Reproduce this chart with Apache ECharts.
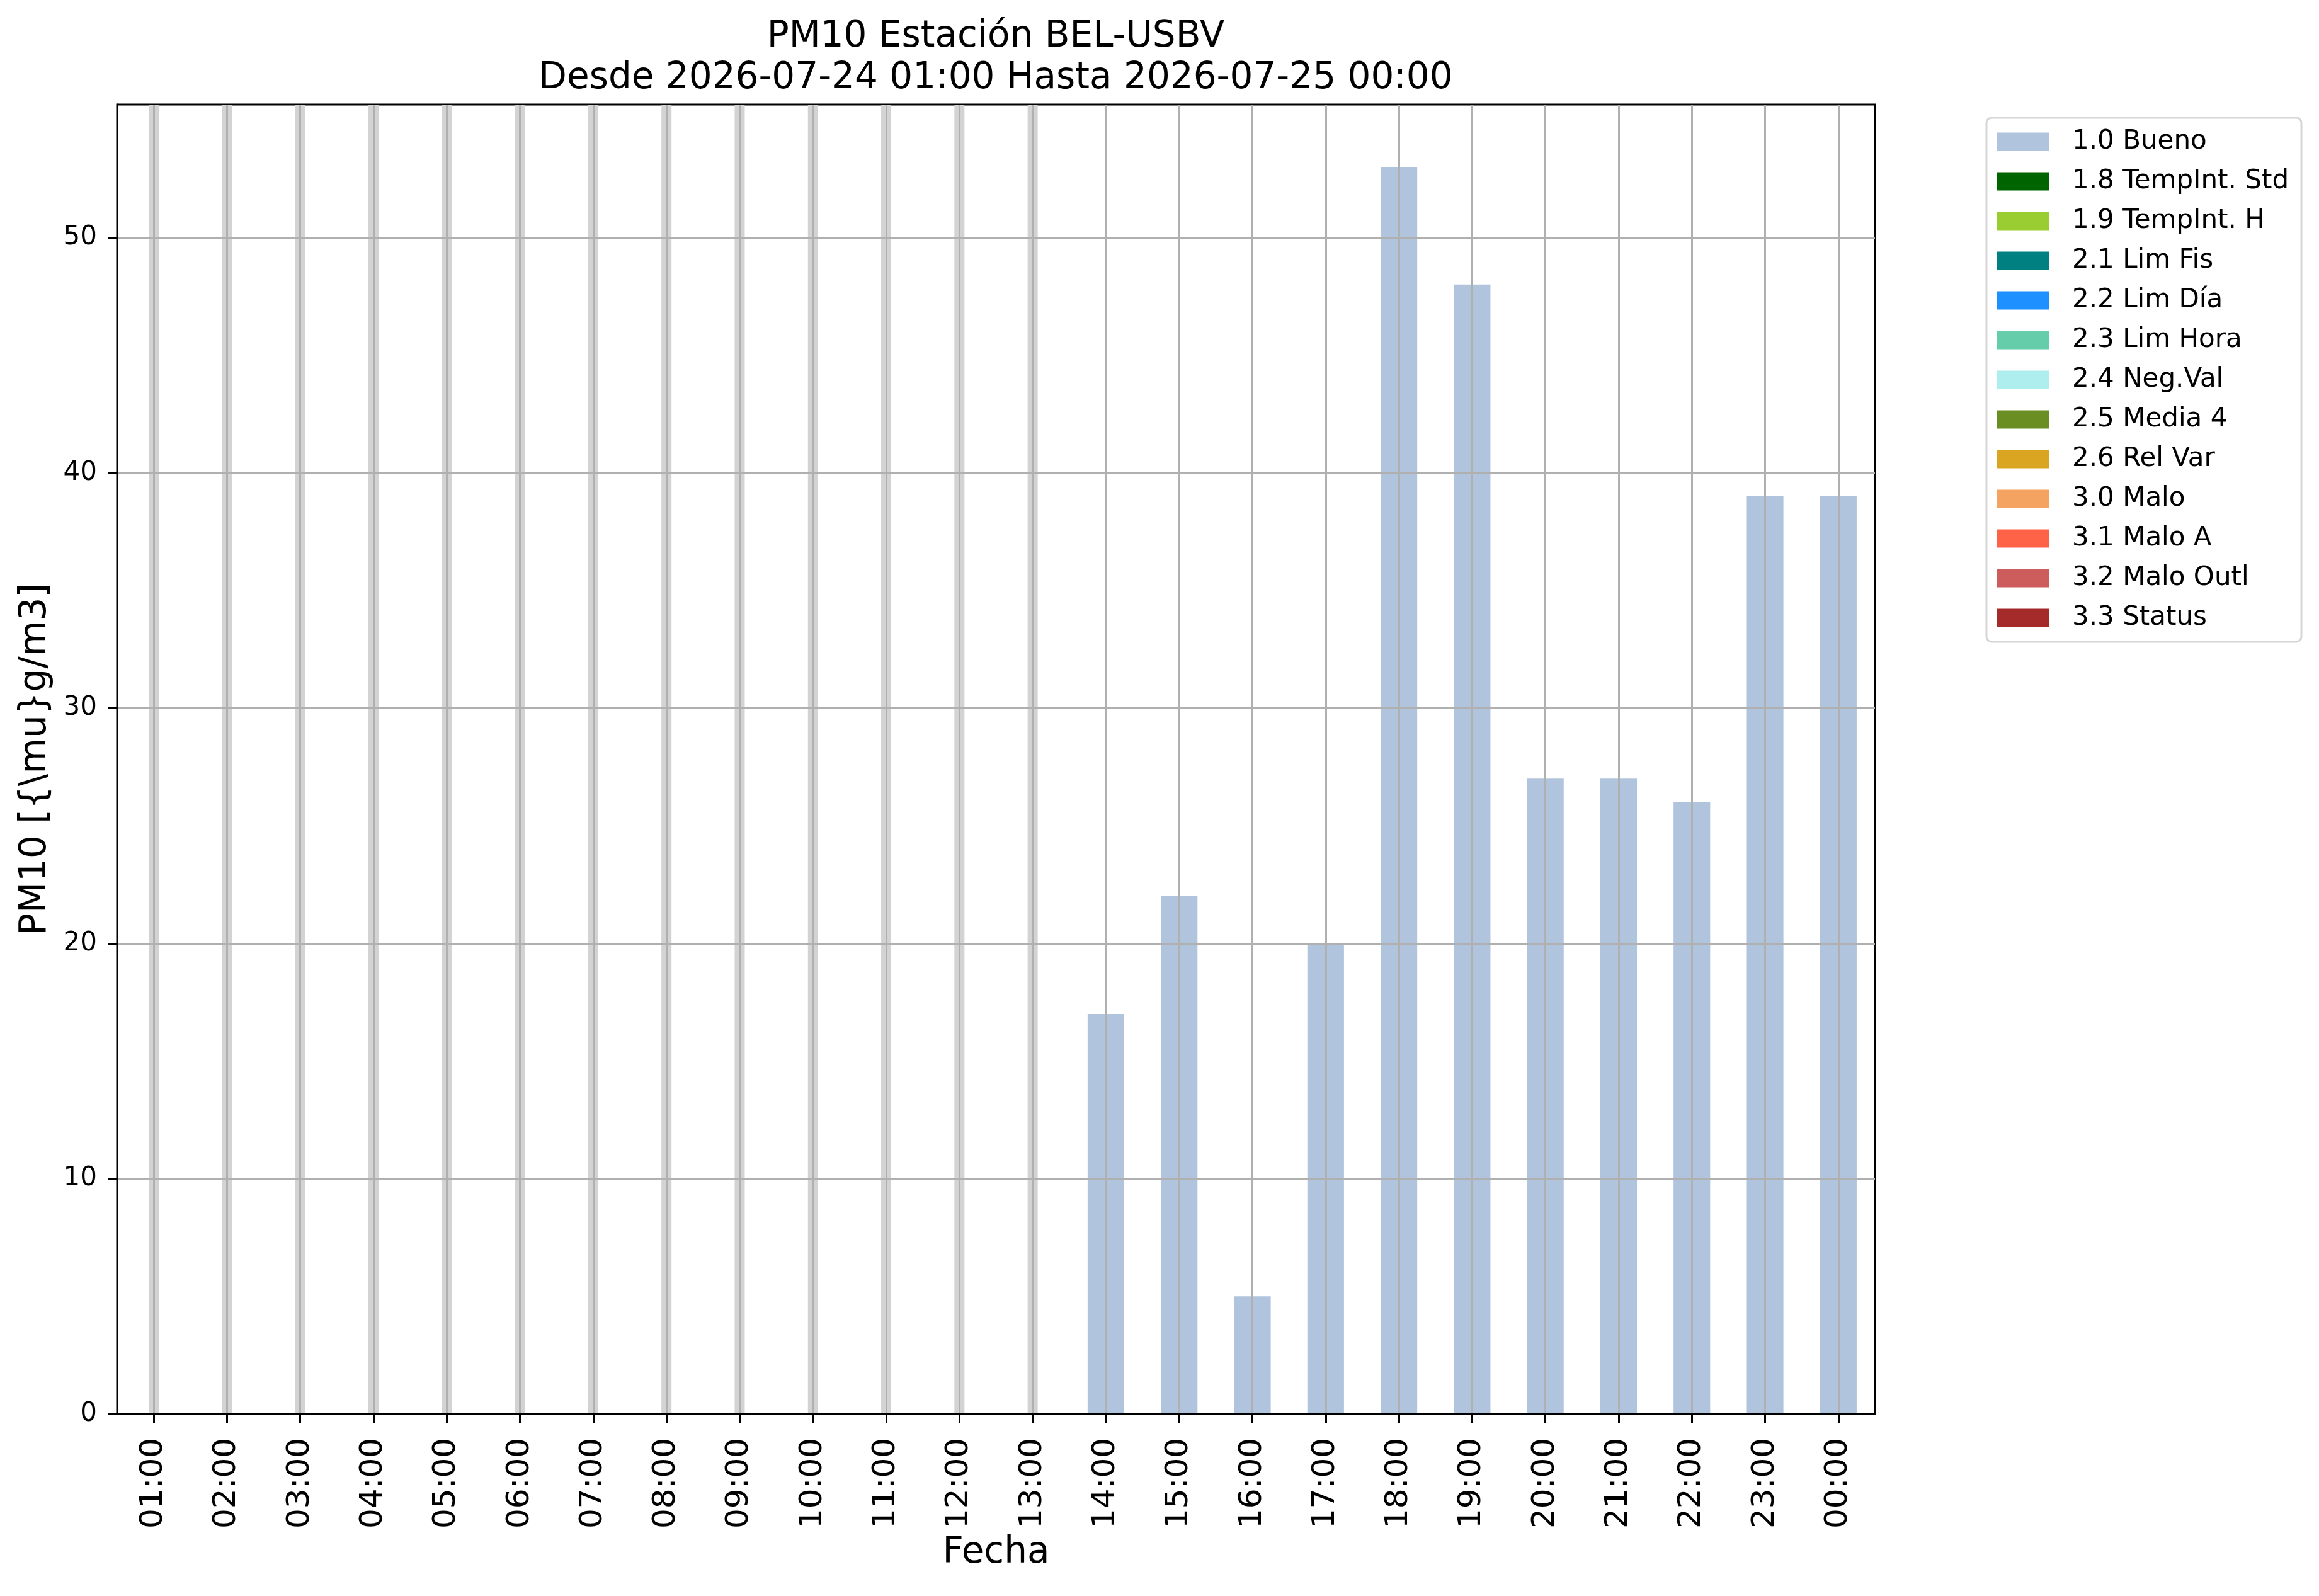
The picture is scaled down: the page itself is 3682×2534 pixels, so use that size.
<!DOCTYPE html>
<html>
<head>
<meta charset="utf-8">
<script src="https://cdn.jsdelivr.net/npm/echarts@6/dist/echarts.min.js"></script>
<style>
html,body{margin:0;padding:0;background:#fff;}
#chart{width:3682px;height:2534px;}
</style>
</head>
<body>
<div id="chart"></div>
<script>
// ---- data ----
const hours = ['01:00','02:00','03:00','04:00','05:00','06:00','07:00','08:00','09:00','10:00','11:00','12:00','13:00','14:00','15:00','16:00','17:00','18:00','19:00','20:00','21:00','22:00','23:00','00:00'];
const bueno = [null,null,null,null,null,null,null,null,null,null,null,null,null,17,22,5,20,53,48,27,27,26,39,39];
const missing = [1,1,1,1,1,1,1,1,1,1,1,1,1,0,0,0,0,0,0,0,0,0,0,0];
const flagNames = ['1.0 Bueno','1.8 TempInt. Std','1.9 TempInt. H','2.1 Lim Fis','2.2 Lim Día','2.3 Lim Hora','2.4 Neg.Val','2.5 Media 4','2.6 Rel Var','3.0 Malo','3.1 Malo A','3.2 Malo Outl','3.3 Status'];
const flagColors = ['#b0c4de','#006400','#9acd32','#008080','#1e90ff','#66cdaa','#afeeee','#6b8e23','#daa520','#f4a460','#ff6347','#cd5c5c','#a52a2a'];
const flagValues = [bueno, [], [], [], [], [], [], [], [], [], [], [], []];
const titleText = 'PM10 Estación BEL-USBV\nDesde 2026-07-24 01:00 Hasta 2026-07-25 00:00';
const yName = 'PM10 [{\\mu}g/m3]';
const xName = 'Fecha';
const Y_MAX = 55.65;

const FONT = 'DejaVu Sans';
const chart = echarts.init(document.getElementById('chart'), null, {renderer: 'canvas'});

const series = flagNames.map((n, i) => ({
  name: n,
  type: 'bar',
  stack: 'flags',
  xAxisIndex: 0,
  barWidth: '50%',
  itemStyle: {color: flagColors[i]},
  data: flagValues[i],
  z: 2
}));
series.push({
  name: 'missing',
  type: 'bar',
  xAxisIndex: 1,
  barWidth: 16,
  itemStyle: {color: '#d3d3d3'},
  data: missing.map(m => m ? Y_MAX : null),
  z: 1
});

chart.setOption({
  animation: false,
  backgroundColor: '#ffffff',
  title: {
    text: titleText,
    left: 1581,
    top: 26,
    padding: 0,
    textAlign: 'center',
    textStyle: {fontFamily: FONT, fontSize: 58, fontWeight: 'normal', color: '#000', lineHeight: 66}
  },
  legend: {
    orient: 'vertical',
    left: 3154,
    top: 187,
    padding: [17, 20, 17, 17],
    data: flagNames,
    icon: 'rect',
    itemWidth: 83,
    itemHeight: 29,
    itemGap: 21,
    borderColor: '#d6d6d6',
    borderWidth: 3,
    borderRadius: 8,
    backgroundColor: '#fff',
    selectedMode: false,
    textStyle: {fontFamily: FONT, fontSize: 42, color: '#000', padding: [0, 0, 0, 31]}
  },
  grid: {
    left: 186, right: 705, top: 166, bottom: 289,
    show: true, borderColor: '#000', borderWidth: 3, backgroundColor: 'transparent'
  },
  xAxis: [{
    type: 'category',
    data: hours,
    z: 10,
    boundaryGap: true,
    name: xName,
    nameLocation: 'middle',
    nameGap: 192,
    nameTextStyle: {fontFamily: FONT, fontSize: 58, color: '#000'},
    axisLine: {show: true, lineStyle: {color: '#000', width: 3}},
    axisTick: {show: true, alignWithLabel: true, length: 15, lineStyle: {color: '#000', width: 3}},
    axisLabel: {show: true, rotate: 90, interval: 0, margin: 38, fontFamily: FONT, fontSize: 50, color: '#000'},
    splitLine: {show: true, alignWithLabel: true, interval: 0, lineStyle: {color: '#b0b0b0', width: 3}}
  }, {
    type: 'category',
    data: hours,
    show: false,
    boundaryGap: true
  }],
  yAxis: {
    type: 'value',
    min: 0,
    max: Y_MAX,
    interval: 10,
    z: 10,
    name: yName,
    nameLocation: 'middle',
    nameGap: 100,
    nameTextStyle: {fontFamily: FONT, fontSize: 58, color: '#000'},
    axisLine: {show: true, lineStyle: {color: '#000', width: 3}},
    axisTick: {show: true, length: 15, lineStyle: {color: '#000', width: 3}},
    axisLabel: {margin: 32, fontFamily: FONT, fontSize: 42, color: '#000', showMaxLabel: false},
    splitLine: {show: true, showMaxLine: false, lineStyle: {color: '#b0b0b0', width: 3}}
  },
  series: series
});
</script>
</body>
</html>
